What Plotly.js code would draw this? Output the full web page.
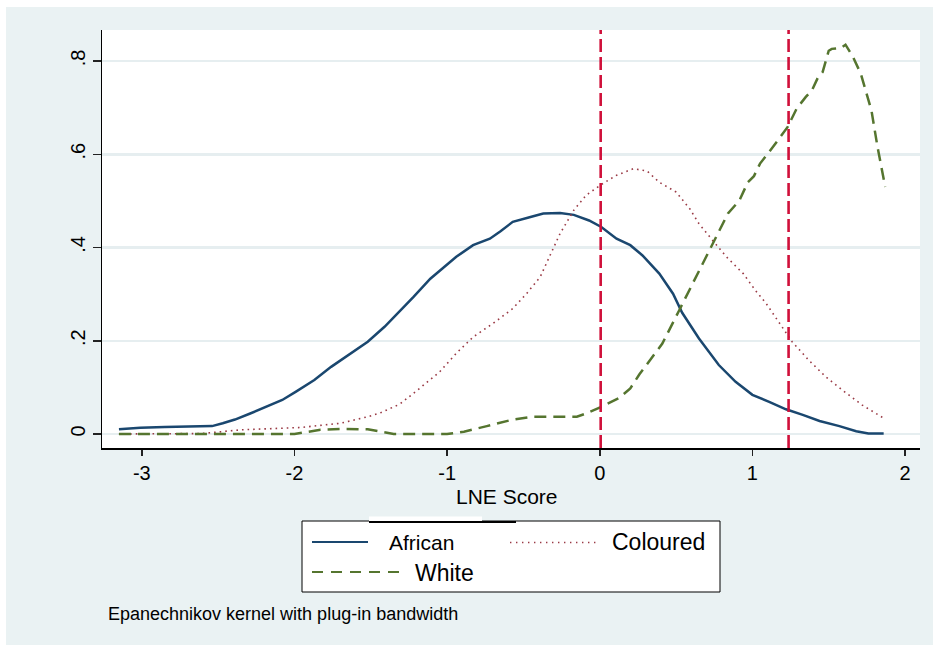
<!DOCTYPE html>
<html>
<head>
<meta charset="utf-8">
<script src="https://cdn.plot.ly/plotly-3.0.1.min.js"></script>
<style>
html,body{margin:0;padding:0;background:#ffffff;}
#bg{position:absolute;left:6px;top:7px;width:927px;height:638px;background:#eaf2f3;}
#chart{position:absolute;left:0;top:0;width:933px;height:645px;}
</style>
</head>
<body>
<div id="bg"></div>
<div id="chart"></div>
<script>
// ---- data ----
var africanX = [-3.15,-3.01,-2.85,-2.70,-2.54,-2.47,-2.39,-2.29,-2.18,-2.08,-1.99,-1.87,-1.76,-1.65,-1.52,-1.41,-1.31,-1.22,-1.11,-1.02,-0.94,-0.83,-0.72,-0.65,-0.57,-0.46,-0.37,-0.26,-0.17,-0.07,0.01,0.11,0.20,0.28,0.39,0.48,0.54,0.65,0.78,0.89,1.00,1.11,1.22,1.33,1.44,1.57,1.68,1.76,1.86];
var africanY = [0.010,0.0135,0.015,0.016,0.017,0.023,0.031,0.044,0.060,0.073,0.091,0.116,0.144,0.169,0.198,0.230,0.263,0.294,0.333,0.358,0.380,0.405,0.419,0.435,0.455,0.465,0.473,0.474,0.470,0.458,0.444,0.419,0.405,0.383,0.344,0.301,0.260,0.205,0.148,0.112,0.084,0.069,0.053,0.041,0.028,0.017,0.006,0.001,0.001];

var colouredX = [-3.15,-2.61,-2.35,-1.96,-1.70,-1.52,-1.44,-1.31,-1.18,-1.05,-0.94,-0.83,-0.70,-0.57,-0.48,-0.39,-0.33,-0.26,-0.17,-0.09,0.01,0.11,0.22,0.31,0.39,0.50,0.59,0.65,0.74,0.83,0.94,1.02,1.09,1.18,1.26,1.37,1.48,1.59,1.72,1.86];
var colouredY = [0.000,0.001,0.009,0.014,0.023,0.037,0.045,0.064,0.098,0.133,0.173,0.208,0.237,0.269,0.301,0.337,0.380,0.430,0.480,0.512,0.535,0.555,0.569,0.564,0.540,0.519,0.483,0.451,0.415,0.380,0.344,0.308,0.280,0.237,0.198,0.158,0.123,0.094,0.062,0.034];

var whiteX = [-3.15,-2.0,-1.83,-1.68,-1.52,-1.44,-1.35,-1.0,-0.89,-0.74,-0.57,-0.44,-0.30,-0.15,-0.09,0.01,0.13,0.20,0.26,0.33,0.41,0.52,0.61,0.70,0.76,0.84,0.915,0.97,1.01,1.05,1.11,1.18,1.23,1.29,1.35,1.39,1.43,1.46,1.50,1.52,1.58,1.61,1.66,1.71,1.78,1.82,1.87];
var whiteY = [0,0,0.009,0.011,0.010,0.005,0,0,0.005,0.017,0.031,0.037,0.037,0.037,0.044,0.058,0.078,0.098,0.128,0.158,0.194,0.265,0.323,0.380,0.422,0.473,0.501,0.540,0.553,0.580,0.605,0.637,0.658,0.698,0.723,0.737,0.765,0.776,0.822,0.826,0.828,0.835,0.808,0.773,0.694,0.615,0.530];

var cutoffs = [0.006, 1.237];
var seriesNames = ['African', 'Coloured', 'White'];
var xTicks = [-3, -2, -1, 0, 1, 2];
var xTickText = ['-3', '-2', '-1', '0', '1', '2'];
var yTicks = [0, 0.2, 0.4, 0.6, 0.8];
var yTickText = ['0', '.2', '.4', '.6', '.8'];
var xTitle = 'LNE Score';
var noteText = 'Epanechnikov kernel with plug-in bandwidth';

// ---- layout helpers ----
var W = 933, H = 645;
var M = {l: 102, r: 13, t: 30, b: 197};
var PW = W - M.l - M.r, PH = H - M.t - M.b;
function px(x) { return (x - M.l) / PW; }
function py(y) { return (H - M.b - y) / PH; }

var FONT = '"Liberation Sans", Arial, Helvetica, sans-serif';
var cAfr = '#1a476f', cCol = '#9a3a45', cWhi = '#55752f', cRed = '#d0103a';

var traces = [
  {x: africanX, y: africanY, name: seriesNames[0], type: 'scatter', mode: 'lines',
   line: {color: cAfr, width: 2.5}, showlegend: false, hoverinfo: 'skip'},
  {x: colouredX, y: colouredY, name: seriesNames[1], type: 'scatter', mode: 'lines',
   line: {color: cCol, width: 1.6, dash: '1.6px,4px'}, showlegend: false, hoverinfo: 'skip'},
  {x: whiteX, y: whiteY, name: seriesNames[2], type: 'scatter', mode: 'lines',
   line: {color: cWhi, width: 2.5, dash: '12px,7px'}, showlegend: false, hoverinfo: 'skip'}
];

var shapes = [];
cutoffs.forEach(function (c) {
  shapes.push({type: 'line', xref: 'x', yref: 'paper', x0: c, x1: c, y0: 0, y1: 1,
    line: {color: cRed, width: 2.6, dash: '13px,5px'}, layer: 'above'});
});
// legend box
shapes.push({type: 'rect', xref: 'paper', yref: 'paper', x0: px(302), x1: px(720), y0: py(592), y1: py(521),
  fillcolor: '#ffffff', line: {color: '#000000', width: 1}});
shapes.push({type: 'rect', xref: 'paper', yref: 'paper', x0: px(369), x1: px(482), y0: py(521), y1: py(516.5),
  fillcolor: '#ffffff', line: {width: 0}});
shapes.push({type: 'line', xref: 'paper', yref: 'paper', x0: px(369), x1: px(516), y0: py(522), y1: py(522),
  line: {color: '#000000', width: 2}});
// legend samples
shapes.push({type: 'line', xref: 'paper', yref: 'paper', x0: px(312), x1: px(368), y0: py(542), y1: py(542),
  line: {color: cAfr, width: 2}});
shapes.push({type: 'line', xref: 'paper', yref: 'paper', x0: px(510), x1: px(596), y0: py(542.5), y1: py(542.5),
  line: {color: cCol, width: 1.4, dash: '1.4px,4.6px'}});
shapes.push({type: 'line', xref: 'paper', yref: 'paper', x0: px(312), x1: px(400), y0: py(572), y1: py(572),
  line: {color: cWhi, width: 2, dash: '11px,8px'}});

var annotations = [
  {text: seriesNames[0], xref: 'paper', yref: 'paper', x: px(387), y: py(542), xanchor: 'left', yanchor: 'middle',
   showarrow: false, font: {family: FONT, size: 21, color: '#000'}},
  {text: seriesNames[1], xref: 'paper', yref: 'paper', x: px(610), y: py(542), xanchor: 'left', yanchor: 'middle',
   showarrow: false, font: {family: FONT, size: 23, color: '#000'}},
  {text: seriesNames[2], xref: 'paper', yref: 'paper', x: px(413), y: py(573), xanchor: 'left', yanchor: 'middle',
   showarrow: false, font: {family: FONT, size: 23, color: '#000'}},
  {text: xTitle, xref: 'paper', yref: 'paper', x: px(506.5), y: py(496), xanchor: 'center', yanchor: 'middle',
   showarrow: false, font: {family: FONT, size: 21, color: '#000'}},
  {text: noteText, xref: 'paper', yref: 'paper', x: px(106), y: py(614), xanchor: 'left', yanchor: 'middle',
   showarrow: false, font: {family: FONT, size: 18, color: '#000'}}
];

var layout = {
  width: W, height: H,
  margin: M,
  paper_bgcolor: 'rgba(0,0,0,0)',
  plot_bgcolor: '#ffffff',
  font: {family: FONT, size: 20, color: '#000'},
  showlegend: false,
  xaxis: {
    range: [-3.261, 2.098], tickmode: 'array', tickvals: xTicks, ticktext: xTickText,
    showgrid: false, zeroline: false, showline: true, linecolor: '#000', linewidth: 1.5,
    ticks: 'outside', ticklen: 6, tickwidth: 1.5, tickcolor: '#222',
    tickfont: {family: FONT, size: 20, color: '#000'}
  },
  yaxis: {
    range: [-0.030, 0.8665], tickmode: 'array', tickvals: yTicks, ticktext: yTickText,
    showgrid: true, gridcolor: '#e6eef0', gridwidth: 2.5, zeroline: false,
    showline: true, linecolor: '#000', linewidth: 1.5,
    ticks: 'outside', ticklen: 8, tickwidth: 1.5, tickcolor: '#222', tickangle: -90,
    tickfont: {family: FONT, size: 20, color: '#000'}
  },
  shapes: shapes,
  annotations: annotations
};

Plotly.newPlot('chart', traces, layout, {displayModeBar: false, staticPlot: true});
</script>
</body>
</html>
